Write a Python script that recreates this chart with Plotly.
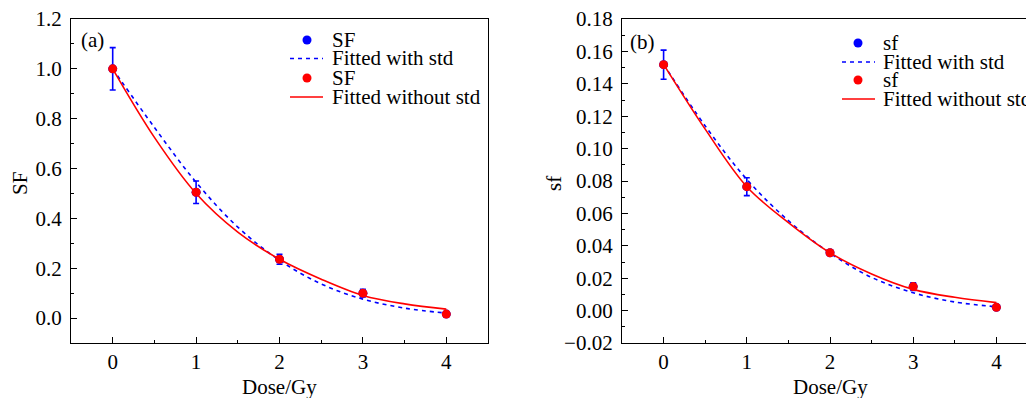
import plotly.graph_objects as go

W, H = 1034, 398

# ---------------- data ----------------
dose = [0, 1, 2, 3, 4]
SF_mean = [1.0, 0.505, 0.236, 0.100, 0.016]
SF_std = [0.085, 0.045, 0.020, 0.015, 0.005]
sf_mean = [0.1518, 0.0765, 0.0357, 0.0148, 0.0020]
sf_std = [0.0090, 0.0055, 0.0015, 0.0023, 0.0005]

fit_dose = [0, 0.5, 1.0, 1.5, 2.0, 2.5, 3.0, 3.5, 4.0]
SF_fit_with_std = [1.0, 0.765, 0.545, 0.365, 0.232, 0.137, 0.076, 0.040, 0.020]
SF_fit_without_std = [1.0, 0.725, 0.500, 0.345, 0.236, 0.156, 0.091, 0.057, 0.036]
sf_fit_with_std = [0.152, 0.114, 0.081, 0.0555, 0.0355, 0.0205, 0.0110, 0.0053, 0.0024]
sf_fit_without_std = [0.152, 0.112, 0.0765, 0.0543, 0.0357, 0.0226, 0.0131, 0.0082, 0.0049]

x_ticks = [0, 1, 2, 3, 4]
SF_ticks = [0.0, 0.2, 0.4, 0.6, 0.8, 1.0, 1.2]
sf_ticks = [-0.02, 0.0, 0.02, 0.04, 0.06, 0.08, 0.10, 0.12, 0.14, 0.16, 0.18]

BLUE = "#0000FF"
RED = "#FF0000"
FONT = "Liberation Serif"
FS = 21
OFF = 8  # page body margin

def px(x):
    return (x - OFF) / W

def py(y):
    return 1 - (y - OFF) / H

fig = go.Figure()

panels = [
    ("x", "y", SF_mean, SF_std, SF_fit_with_std, SF_fit_without_std, "SF"),
    ("x2", "y2", sf_mean, sf_std, sf_fit_with_std, sf_fit_without_std, "sf"),
]
for xa, ya, m, s, fw, fwo, name in panels:
    fig.add_trace(go.Scatter(
        x=dose, y=m, mode="markers", xaxis=xa, yaxis=ya, name=name,
        marker=dict(color=BLUE, size=9),
        error_y=dict(type="data", array=s, visible=True, color=BLUE,
                     thickness=1.6, width=3),
        showlegend=False, cliponaxis=False))
    fig.add_trace(go.Scatter(
        x=fit_dose, y=fw, mode="lines", xaxis=xa, yaxis=ya,
        name="Fitted with std", line=dict(color=BLUE, width=1.6,
                                          dash="4px,4px", shape="spline"),
        showlegend=False))
    fig.add_trace(go.Scatter(
        x=fit_dose, y=fwo, mode="lines", xaxis=xa, yaxis=ya,
        name="Fitted without std", line=dict(color=RED, width=1.6,
                                             shape="spline"),
        showlegend=False))
    fig.add_trace(go.Scatter(
        x=dose, y=m, mode="markers", xaxis=xa, yaxis=ya, name=name,
        marker=dict(color=RED, size=9), showlegend=False, cliponaxis=False))

ydom = [py(343), py(19)]
axis_common = dict(
    showgrid=False, zeroline=False, showline=True, linecolor="black",
    linewidth=1.3, ticks="inside", ticklen=6, tickwidth=1.3,
    tickcolor="black", tickfont=dict(family=FONT, size=FS, color="black"),
    automargin=False, ticklabeloverflow="allow",
)

fig.update_layout(
    template="none",
    width=W, height=H,
    margin=dict(l=0, r=0, t=0, b=0, pad=0, autoexpand=False),
    paper_bgcolor="white", plot_bgcolor="white",
    showlegend=False,
    font=dict(family=FONT, size=FS, color="black"),
    xaxis=dict(domain=[px(71), px(488)], range=[-0.5, 4.5], anchor="y",
               tickvals=x_ticks, mirror=True,
               minor=dict(ticks="inside", ticklen=3, dtick=0.5, tick0=0,
                          tickcolor="black", tickwidth=1.3),
               **axis_common),
    yaxis=dict(domain=ydom, range=[-0.1, 1.2], anchor="x",
               tickvals=SF_ticks, tickformat=".1f", mirror=True,
               ticklabelstandoff=4,
               minor=dict(ticks="inside", ticklen=3, dtick=0.1, tick0=0,
                          tickcolor="black", tickwidth=1.3),
               **axis_common),
    xaxis2=dict(domain=[px(622), min(1.0, px(1038))], range=[-0.5, 4.5],
                anchor="y2", tickvals=x_ticks, mirror=True,
                minor=dict(ticks="inside", ticklen=3, dtick=0.5, tick0=0,
                           tickcolor="black", tickwidth=1.3),
                **axis_common),
    yaxis2=dict(domain=ydom, range=[-0.02, 0.18], anchor="x2",
                tickvals=sf_ticks, tickformat=".2f", mirror=False,
                ticklabelstandoff=4,
                minor=dict(ticks="inside", ticklen=3, dtick=0.01, tick0=0,
                           tickcolor="black", tickwidth=1.3),
                **axis_common),
)

annotations = []
shapes = []

def text(x, y, t, xanchor="left", angle=0):
    annotations.append(dict(
        x=px(x), y=py(y), xref="paper", yref="paper", text=t,
        showarrow=False, xanchor=xanchor, yanchor="middle", textangle=angle,
        font=dict(family=FONT, size=FS, color="black")))

def dot(x, y, color):
    shapes.append(dict(
        type="circle", xref="paper", yref="paper",
        xsizemode="pixel", ysizemode="pixel",
        xanchor=px(x), yanchor=py(y), x0=-4.5, x1=4.5, y0=-4.5, y1=4.5,
        fillcolor=color, line=dict(color=color, width=0)))

def seg(x0, x1, y, color, dash="solid"):
    shapes.append(dict(
        type="line", xref="paper", yref="paper",
        x0=px(x0), x1=px(x1), y0=py(y), y1=py(y),
        line=dict(color=color, width=1.6, dash=dash)))

# axis titles
text(279, 387, "Dose/Gy", xanchor="center")
text(830, 387, "Dose/Gy", xanchor="center")
text(20, 184, "SF", xanchor="center", angle=-90)
text(554, 184, "sf", xanchor="center", angle=-90)

# panel labels
text(79, 40, "(a)")
text(628, 42, "(b)")

# legend (a)
dot(307, 40, BLUE); text(330, 40, "SF")
seg(290, 323, 58.5, BLUE, "4px,4px"); text(330, 58.5, "Fitted with std")
dot(307, 78, RED); text(330, 78, "SF")
seg(290, 323, 97, RED); text(330, 97, "Fitted without std")

# legend (b)
dot(858, 43, BLUE); text(881, 43, "sf")
seg(842, 875, 62, BLUE, "4px,4px"); text(881, 62, "Fitted with std")
dot(858, 80, RED); text(881, 80, "sf")
seg(842, 875, 99, RED); text(881, 99, "Fitted without std")

fig.update_layout(annotations=annotations, shapes=shapes)

fig.write_html("out.html")
